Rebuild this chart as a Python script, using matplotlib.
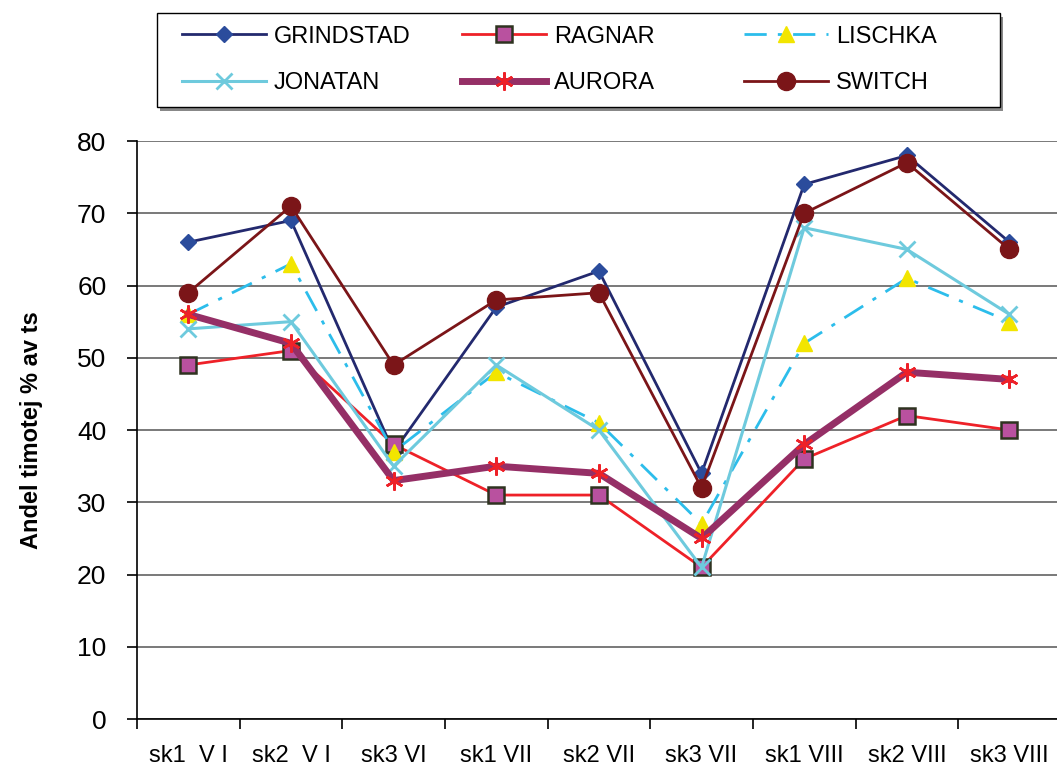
import matplotlib.pyplot as plt
from matplotlib.patches import Rectangle

plt.rcParams['font.family'] = ['Liberation Sans', 'DejaVu Sans']

labels = ['sk1  V I', 'sk2  V I', 'sk3 VI', 'sk1 VII', 'sk2 VII', 'sk3 VII',
          'sk1 VIII', 'sk2 VIII', 'sk3 VIII']

grindstad = [66, 69, 37, 57, 62, 34, 74, 78, 66]
ragnar = [49, 51, 38, 31, 31, 21, 36, 42, 40]
lischka = [56, 63, 37, 48, 41, 27, 52, 61, 55]
jonatan = [54, 55, 35, 49, 40, 21, 68, 65, 56]
aurora = [56, 52, 33, 35, 34, 25, 38, 48, 47]
switch = [59, 71, 49, 58, 59, 32, 70, 77, 65]

fig = plt.figure(figsize=(10.57, 7.71), dpi=100)
ax = fig.add_axes([0.1296, 0.0674, 0.874, 0.7497])
x = list(range(len(labels)))

h_g, = ax.plot(x, grindstad, color='#23296E', lw=2, marker='D', ms=8,
               mfc='#2B4C9C', mec='#2B4C9C', label='GRINDSTAD')
h_r, = ax.plot(x, ragnar, color='#EE2128', lw=2, marker='s', ms=11,
               mfc='#B9519F', mec='#2E3320', mew=1.8, label='RAGNAR')
h_l, = ax.plot(x, lischka, color='#2CBDEB', lw=2, ls=(0, (8, 4, 1.5, 4)),
               marker='^', ms=12, mfc='#F2E500', mec='#F2E500', label='LISCHKA')
h_j, = ax.plot(x, jonatan, color='#6ECADD', lw=2.2, marker='x', ms=11,
               mew=2, label='JONATAN')
h_a, = ax.plot(x, aurora, color='#952F66', lw=5, marker=(6, 2, 0), ms=13,
               mec='#EE2128', mew=1.8, label='AURORA')
h_s, = ax.plot(x, switch, color='#7B1518', lw=2, marker='o', ms=13,
               mfc='#7B1518', mec='#7B1518', label='SWITCH')

ax.set_xlim(-0.5, 8.5)
ax.set_ylim(0, 80)
ax.set_yticks(range(0, 81, 10))
ax.tick_params(axis='y', labelsize=19, length=7, width=1.2, direction='out', pad=15)
ax.set_xticks([i - 0.5 for i in range(10)])
ax.set_xticklabels([])
ax.set_xticks(x, minor=True)
ax.set_xticklabels(labels, minor=True, fontsize=17)
ax.tick_params(axis='x', which='major', length=7, width=1.2, direction='out')
ax.tick_params(axis='x', which='minor', length=0, pad=19)
ax.grid(axis='y', color='#555555', lw=1.1)
ax.set_axisbelow(True)
for s in ['top', 'right']:
    ax.spines[s].set_visible(False)
ax.spines['left'].set_linewidth(1.2)
ax.spines['bottom'].set_linewidth(1.2)

ax.set_ylabel('Andel timotej % av ts', fontsize=17, fontweight='bold')
ax.yaxis.set_label_coords(-0.102, 0.5)

# legend frame with shadow
fig.patches.append(Rectangle((0.1515, 0.8562), 0.7975, 0.1219, transform=fig.transFigure,
                             facecolor='#888888', edgecolor='none', zorder=1))
fig.patches.append(Rectangle((0.1485, 0.8612), 0.7975, 0.1219, transform=fig.transFigure,
                             facecolor='white', edgecolor='black', lw=1.0, zorder=2))

columns = [(h_g, h_j), (h_r, h_a), (h_l, h_s)]
col_x = [0.1722, 0.4371, 0.7039]
for hs, cx in zip(columns, col_x):
    lg = fig.legend(handles=list(hs), labels=[h.get_label() for h in hs],
                    loc='center left', bbox_to_anchor=(cx, 0.9222),
                    fontsize=17, frameon=False, borderpad=0, borderaxespad=0,
                    labelspacing=1.05, handlelength=3.56, handletextpad=0.34)
    lg.set_zorder(3)

fig.savefig('out.png', dpi=100)
